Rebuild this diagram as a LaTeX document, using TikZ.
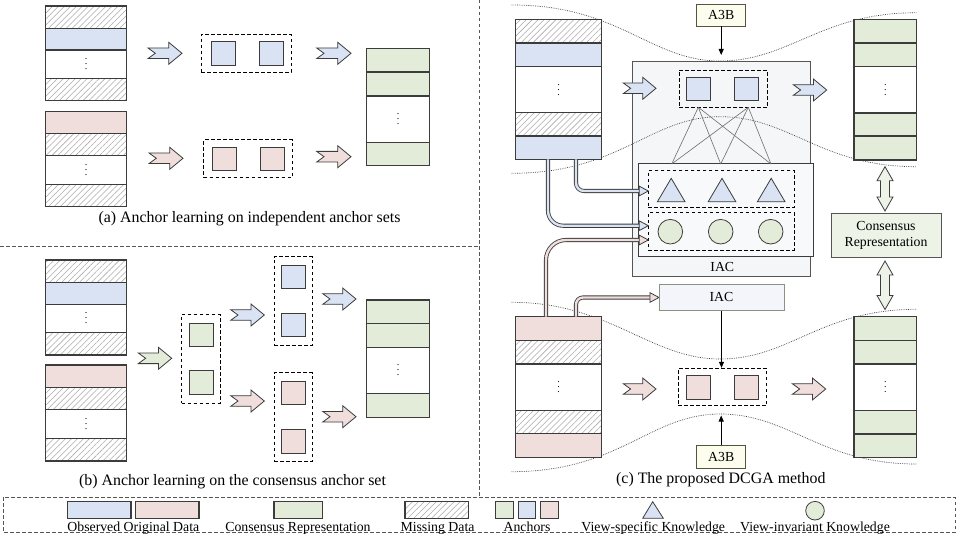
\documentclass[tikz,border=0pt]{standalone}
\usepackage{fontspec}
\setmainfont{Liberation Serif}
\usetikzlibrary{patterns.meta,arrows.meta}

\definecolor{obsblue}{HTML}{DAE3F3}
\definecolor{obspink}{HTML}{F0DEDD}
\definecolor{consgreen}{HTML}{E3ECD9}
\definecolor{edgec}{HTML}{3C3C3C}
\definecolor{hatchc}{HTML}{ABABAB}
\definecolor{iacbg}{HTML}{F5F6F8}
\definecolor{iacin}{HTML}{F8F9FB}
\definecolor{iaclow}{HTML}{F3F5FA}
\definecolor{iaclowedge}{HTML}{8A9280}
\definecolor{abfill}{HTML}{FDFDEE}
\definecolor{abedge}{HTML}{55553F}
\definecolor{consbg}{HTML}{EEF3E8}
\definecolor{sepc}{HTML}{555555}
\definecolor{meshc}{HTML}{6E6E6E}
\definecolor{curvec}{HTML}{3A3A3A}

\tikzset{
  cell/.style={draw=edgec, line width=1.1pt},
  cblue/.style={cell, fill=obsblue},
  cpink/.style={cell, fill=obspink},
  cgreen/.style={cell, fill=consgreen},
  cwhite/.style={cell, fill=white},
  cmiss/.style={cell, preaction={fill=white},
    pattern={Lines[angle=45,distance=4.2pt,line width=0.55pt]}, pattern color=hatchc},
  anchorsq/.style={draw=edgec, line width=0.9pt, minimum width=24pt, minimum height=23.5pt, inner sep=0pt},
  setbox/.style={draw=black, line width=0.9pt, dash pattern=on 3.5pt off 2.5pt, inner sep=0pt},
  sepline/.style={draw=sepc, line width=0.8pt, dash pattern=on 3.5pt off 2.5pt},
  curveline/.style={draw=curvec, line width=0.7pt, dash pattern=on 0.7pt off 1.1pt},
  meshline/.style={draw=meshc, line width=0.6pt},
  vdotsnode/.style={inner sep=0pt, font=\fontsize{10}{12}\selectfont},
  lbl/.style={font=\fontsize{13.8}{15.6}\selectfont, inner sep=0pt},
  captxt/.style={font=\fontsize{15.9}{18}\selectfont, inner sep=0pt},
  thinarrow/.style={draw=black, line width=0.9pt, -{Triangle[length=6pt,width=5pt]}},
  pipe/.style={draw=edgec, line width=0.85pt, double=#1, double distance=2.4pt},
  hollow/.style={draw=edgec, line width=0.8pt, fill=#1, line join=miter},
  plainbox/.style={draw=#1, line width=0.9pt, inner sep=0pt},
}

% three stacked dots for the elided rows
\newcommand\rowdots{\vbox{\baselineskip5pt\lineskiplimit0pt\hbox{.}\hbox{.}\hbox{.}}}

% a vertical data column: #1 name, #2 left x, #3 right x, #4 y of the dotted row, #5 rows y0/y1/style
\newcommand\datacol[5]{%
  \foreach \ya/\yb/\st in {#5} {\path[\st] (#2,\ya) rectangle (#3,\yb);}
  \node[vdotsnode] (#1) at ({(#2+#3)/2},#4) {\rowdots};
}

% notched block arrow: #1 tail x, #2 tip x, #3 centre y, #4 fill
\newcommand\blockarrow[4]{%
  \path[hollow=#4] (#1,#3-5.3) -- (#2-13.3,#3-5.3) -- (#2-13.3,#3-11) -- (#2,#3)
    -- (#2-13.3,#3+11) -- (#2-13.3,#3+5.3) -- (#1,#3+5.3) -- (#1+7.3,#3) -- cycle;
}

% open head for the piped connectors: #1 tip x, #2 y, #3 fill
\newcommand\pipehead[3]{%
  \path[hollow=#3] (#1-9,#2-4.8) -- (#1,#2) -- (#1-9,#2+4.8) -- cycle;
}

% hollow two-way arrow: #1 centre x, #2 top y, #3 bottom y
\newcommand\twowayarrow[3]{%
  \path[hollow=consbg] (#1,#2) -- (#1+8,#2+14) -- (#1+4.5,#2+14) -- (#1+4.5,#3-14)
    -- (#1+8,#3-14) -- (#1,#3) -- (#1-8,#3-14) -- (#1-4.5,#3-14) -- (#1-4.5,#2+14)
    -- (#1-8,#2+14) -- cycle;
}

\begin{document}
\begin{tikzpicture}[x=1pt,y=-1pt]
\useasboundingbox (0,0) rectangle (960,540);
\fill[white] (0,0) rectangle (960,540);

% panel separators and legend frame
\draw[sepline] (0,246.7) -- (479,246.7);
\draw[sepline] (479,0) -- (479,497.3);
\draw[sepline] (3.3,497.3) rectangle (955,532.3);

% ================= (a) independent anchor sets =================
\datacol{dA1}{45.7}{126.7}{64.3}{6/28.3/cmiss,28.3/50/cblue,50/78.7/cwhite,78.7/100.7/cmiss}
\datacol{dA2}{45.7}{126.7}{169.8}{111.7/133.3/cpink,133.3/155.3/cmiss,155.3/184.3/cwhite,184.3/206.7/cmiss}
\datacol{dA3}{366.7}{429.3}{119.3}{48.7/72/cgreen,72/96/cgreen,96/142.7/cwhite,142.7/165.3/cgreen}

\blockarrow{148}{182}{53.3}{obsblue}
\blockarrow{149}{183}{158.3}{obspink}
\blockarrow{316.7}{351}{53.3}{obsblue}
\blockarrow{316.7}{351}{156.7}{obspink}

\node[setbox, minimum width=90pt, minimum height=37.7pt] (setA1) at (246,53.2) {};
\node[anchorsq, fill=obsblue] (qA1) at (223,53.3) {};
\node[anchorsq, fill=obsblue] (qA2) at (271,53.3) {};
\node[setbox, minimum width=88.6pt, minimum height=37.7pt] (setA2) at (248,158.8) {};
\node[anchorsq, fill=obspink] (qA3) at (224.3,159.2) {};
\node[anchorsq, fill=obspink] (qA4) at (272.3,159.2) {};

\node[captxt] (capA) at (249.5,218.3) {(a) Anchor learning on independent anchor sets};

% ================= (b) consensus anchor set =================
\datacol{dB1}{45.7}{126.7}{318.5}{260/282.3/cmiss,282.3/304.3/cblue,304.3/332.7/cwhite,332.7/355/cmiss}
\datacol{dB2}{45.7}{126.7}{424}{365/387.3/cpink,387.3/409.7/cmiss,409.7/438.3/cwhite,438.3/461/cmiss}
\datacol{dB3}{366.7}{429.3}{370.3}{300/323.7/cgreen,323.7/347.3/cgreen,347.3/393.3/cwhite,393.3/417.3/cgreen}

\blockarrow{138.3}{171.7}{358.3}{consgreen}
\blockarrow{230.7}{264.3}{315}{obsblue}
\blockarrow{230.7}{264.3}{401}{obspink}
\blockarrow{322.7}{356}{299}{obsblue}
\blockarrow{322.7}{356}{416.7}{obspink}

\node[setbox, minimum width=38.3pt, minimum height=89pt] (setB0) at (200.8,358.8) {};
\node[anchorsq, fill=consgreen] (qB1) at (201.3,334.7) {};
\node[anchorsq, fill=consgreen] (qB2) at (201.3,382.5) {};
\node[setbox, minimum width=38.3pt, minimum height=88.3pt] (setB1) at (293.2,300.8) {};
\node[anchorsq, fill=obsblue] (qB3) at (293.7,277) {};
\node[anchorsq, fill=obsblue] (qB4) at (293.7,324.7) {};
\node[setbox, minimum width=38.3pt, minimum height=88.3pt] (setB2) at (293.2,416.8) {};
\node[anchorsq, fill=obspink] (qB5) at (293.7,393) {};
\node[anchorsq, fill=obspink] (qB6) at (293.7,441.2) {};

\node[captxt] (capB) at (232.5,481.7) {(b) Anchor learning on the consensus anchor set};

% ================= (c) DCGA =================
% outer IAC block of the first view
\node[plainbox=sepc, fill=iacbg, minimum width=178.4pt, minimum height=215pt] (iacBig) at (721.5,169.2) {};
\node[lbl] (iacBigLbl) at (722.3,266.7) {IAC};

% dotted envelopes of the two views
\draw[curveline] (511.7,5) .. controls (620,5) and (650,61) .. (720,61)
  .. controls (790,61) and (820,12.7) .. (916.7,12.7);
\draw[curveline] (511.7,173.3) .. controls (620,173.3) and (650,116.7) .. (720,116.7)
  .. controls (790,116.7) and (820,166.7) .. (916.7,166.7);
\draw[curveline] (511.7,302.3) .. controls (610,302.3) and (650,359) .. (720,359)
  .. controls (790,359) and (820,309.3) .. (916.7,309.3);
\draw[curveline] (511.7,471.7) .. controls (620,471.7) and (650,414) .. (720,414)
  .. controls (790,414) and (820,464) .. (916.7,464);

% data columns
\datacol{dC1}{515.7}{601.7}{89.7}{19.3/43/cmiss,43/66.7/cblue,66.7/112.7/cwhite,112.7/136/cmiss,136/159.3/cblue}
\datacol{dC2}{515.7}{601.7}{387.3}{316.7/340.7/cpink,340.7/364/cmiss,364/410.7/cwhite,410.7/433.3/cmiss,433.3/457.3/cpink}
\datacol{dC3}{854}{916.7}{89.8}{19.3/43/cgreen,43/66.7/cgreen,66.7/113/cwhite,113/136/cgreen,136/160/cgreen}
\datacol{dC4}{854}{916.7}{387.3}{316.7/340.3/cgreen,340.3/364/cgreen,364/410.7/cwhite,410.7/434/cgreen,434/457.3/cgreen}

% anchors of the first view
\node[setbox, minimum width=88.3pt, minimum height=37.3pt] (setC1) at (723.2,88.7) {};
\node[anchorsq, fill=obsblue] (qC1) at (698.7,89) {};
\node[anchorsq, fill=obsblue] (qC2) at (746.7,89) {};

% knowledge block
\node[plainbox=edgec, fill=iacin, minimum width=174.6pt, minimum height=92.7pt] (iacIn) at (726,210.3) {};
\node[setbox, minimum width=145.7pt, minimum height=36.6pt] (triBox) at (721.2,189) {};
\node[setbox, minimum width=145.7pt, minimum height=37.3pt] (cirBox) at (721.2,231.3) {};
\foreach \cx in {671.2,722,771.2}
  \path[hollow=obsblue] (\cx,178.3) -- (\cx+13.8,201.7) -- (\cx-13.8,201.7) -- cycle;
\foreach \cx/\nm in {670.3/k1,720.7/k2,770.7/k3}
  \node[circle, draw=edgec, line width=0.8pt, fill=consgreen, minimum size=24.6pt, inner sep=0pt] (\nm) at (\cx,231.7) {};

% anchor-to-knowledge links
\coordinate (mA) at (698.3,107.3);
\coordinate (mB) at (748.3,107.3);
\foreach \tx in {671.7,720.7,771}{
  \draw[meshline] (mA) -- (\tx,164);
  \draw[meshline] (mB) -- (\tx,164);
}

\blockarrow{623.3}{656}{88.3}{obsblue}
\blockarrow{793.3}{826.7}{90}{obsblue}

% A3B of the first view
\node[plainbox=abedge, fill=abfill, minimum width=49pt, minimum height=22pt, lbl] (abTop) at (721.2,15) {A3B};
\coordinate (abTopTip) at (721.2,55);
\draw[thinarrow] (abTop.south) -- (abTopTip);

% piped connectors into the knowledge block and the second IAC
\coordinate (pB1) at (576,159.3);  \coordinate (pB1e) at (639.3,191);
\coordinate (pB2) at (548,159.3);  \coordinate (pB2e) at (639.3,225.7);
\coordinate (pP1) at (546,316.7);  \coordinate (pP1e) at (639.3,240);
\coordinate (pP2) at (576,316.7);  \coordinate (pP2e) at (650,297.5);
\draw[pipe=obsblue, rounded corners=8pt] (pB1) |- (pB1e);
\draw[pipe=obsblue, rounded corners=15pt] (pB2) |- (pB2e);
\draw[pipe=obspink, rounded corners=20pt] (pP1) |- (pP1e);
\draw[pipe=obspink, rounded corners=7pt] (pP2) |- (pP2e);
\pipehead{648.3}{191}{obsblue}
\pipehead{648.3}{225.7}{obsblue}
\pipehead{648.3}{240}{obspink}
\pipehead{659}{297.5}{obspink}

% second view
\node[plainbox=iaclowedge, fill=iaclow, minimum width=125pt, minimum height=26.7pt, lbl] (iacLow) at (721.5,297.3) {IAC};
\node[setbox, minimum width=88.4pt, minimum height=37.4pt] (setC2) at (722.5,387) {};
\node[anchorsq, fill=obspink] (qC3) at (698.7,387.2) {};
\node[anchorsq, fill=obspink] (qC4) at (746.7,387.2) {};
\draw[thinarrow] (iacLow.south) -- (iacLow.south |- setC2.north);

\blockarrow{623.3}{656}{389}{obspink}
\blockarrow{792.3}{825.7}{389}{obspink}

\node[plainbox=abedge, fill=abfill, minimum width=49pt, minimum height=22.6pt, lbl] (abLow) at (721.2,457) {A3B};
\coordinate (abLowTip) at (721.2,415.5);
\draw[thinarrow] (abLow.north) -- (abLowTip);

% consensus representation shared by both views
\node[plainbox=sepc, fill=consbg, minimum width=110pt, minimum height=44.4pt, lbl, align=center] (cons) at (886,235.5) {Consensus\\Representation};
\twowayarrow{885}{166.7}{211}
\twowayarrow{885}{261}{309.5}

\node[captxt] (capC) at (720.8,480) {(c) The proposed DCGA method};

% ================= legend =================
\path[cblue] (67.7,501.7) rectangle (131,518.3);
\path[cpink] (135.7,501.7) rectangle (199,518.3);
\node[lbl, anchor=base] (lgObs) at (133.3,531) {Observed Original Data};
\path[cgreen] (274,501.7) rectangle (322.3,518.3);
\node[lbl, anchor=base] (lgCons) at (298,531) {Consensus Representation};
\path[cmiss] (405,501.7) rectangle (468.3,518.3);
\node[lbl, anchor=base] (lgMiss) at (437.5,531) {Missing Data};
\path[cell, line width=0.9pt, fill=consgreen] (495.7,501.7) rectangle (513.3,518.3);
\path[cell, line width=0.9pt, fill=obsblue] (518,501.7) rectangle (535.7,518.3);
\path[cell, line width=0.9pt, fill=obspink] (540.3,501.7) rectangle (558,518.3);
\node[lbl, anchor=base] (lgAnc) at (527,531) {Anchors};
\path[hollow=obsblue] (652.7,501.7) -- (663.3,518.3) -- (642.7,518.3) -- cycle;
\node[lbl, anchor=base] (lgSpec) at (653.3,531) {View-specific Knowledge};
\node[circle, draw=edgec, line width=0.8pt, fill=consgreen, minimum size=18.6pt, inner sep=0pt] (lgCirc) at (815,510.7) {};
\node[lbl, anchor=base] (lgInv) at (815,531) {View-invariant Knowledge};
\end{tikzpicture}
\end{document}
